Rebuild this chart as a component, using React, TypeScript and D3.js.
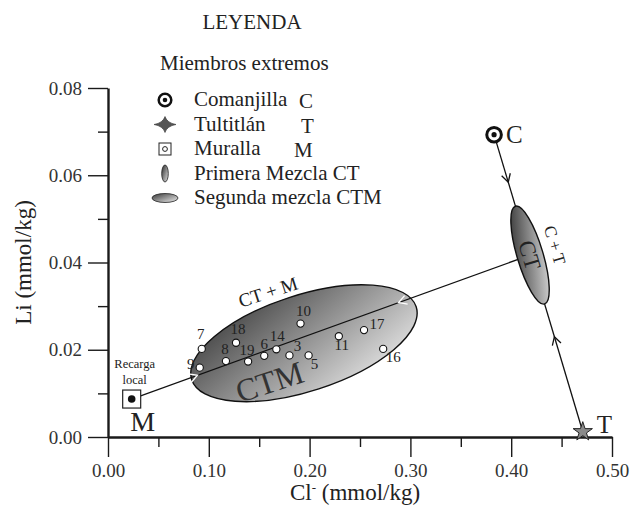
import React, { useEffect, useRef } from 'react';
import * as d3 from 'd3';

// end members (Cl in mmol/kg, Li in mmol/kg)
const endIds = ['C', 'T', 'M'];
const endNames = ['Comanjilla', 'Tultitlán', 'Muralla'];
const endCl = [0.383, 0.471, 0.0235];
const endLi = [0.0693, 0.0012, 0.0087];

// samples
const sampleIds = ['7', '9', '18', '8', '19', '6', '14', '3', '5', '10', '11', '17', '16'];
const sampleCl = [0.093, 0.091, 0.127, 0.117, 0.139, 0.155, 0.167, 0.18, 0.199, 0.191, 0.229, 0.254, 0.273];
const sampleLi = [0.0202, 0.0159, 0.0216, 0.0174, 0.0173, 0.0186, 0.0201, 0.0187, 0.0187, 0.026, 0.0231, 0.0245, 0.0202];

// mixture zones (centres)
const mixCT = { cl: 0.4187, li: 0.0417 };
const mixCTM = { cl: 0.1944, li: 0.0215 };

const xTicks = [0, 0.1, 0.2, 0.3, 0.4, 0.5];
const xMinor = [0.05, 0.15, 0.25, 0.35, 0.45];
const yTicks = [0, 0.02, 0.04, 0.06, 0.08];
const yMinor = [0.01, 0.03, 0.05, 0.07];

const legendRows = [...endNames, 'Primera Mezcla CT', 'Segunda mezcla CTM'];
const legendCodes = ['C', 'T', 'M', '', ''];

// label offsets in px, relative to the sample point
const labelOffset: Record<string, [number, number]> = {
  '7': [-1, -10], '9': [-9, 1], '18': [2, -9], '8': [-1, -7], '19': [-1, -7],
  '6': [0, -7], '14': [1, -8], '3': [8, -4], '5': [6, 14], '10': [3, -8],
  '11': [3, 14], '17': [13, -1], '16': [10, 13],
};

const W = 632;
const H = 505;
const FONT = '"Liberation Serif", "Times New Roman", serif';

const App = () => {
  const xAxisRef = useRef<SVGGElement>(null);
  const yAxisRef = useRef<SVGGElement>(null);

  const x = d3.scaleLinear().domain([0, 0.5]).range([108, 612]);
  const y = d3.scaleLinear().domain([0, 0.08]).range([437, 88]);

  useEffect(() => {
    const fmt = d3.format('.2f');
    const gx = d3.select(xAxisRef.current);
    gx.selectAll('*').remove();
    gx.append('g').call(d3.axisBottom(x).tickValues(xTicks).tickSize(20).tickSizeOuter(0).tickPadding(7).tickFormat(d => fmt(d as number)));
    gx.append('g').call(d3.axisBottom(x).tickValues(xMinor).tickSize(10).tickFormat(() => '')).select('.domain').remove();

    const gy = d3.select(yAxisRef.current);
    gy.selectAll('*').remove();
    gy.append('g').call(d3.axisLeft(y).tickValues(yTicks).tickSize(20).tickSizeOuter(0).tickPadding(6).tickFormat(d => fmt(d as number)));
    gy.append('g').call(d3.axisLeft(y).tickValues(yMinor).tickSize(10).tickFormat(() => '')).select('.domain').remove();

    [gx, gy].forEach(g => {
      g.selectAll('.domain').attr('stroke', '#1a1a1a').attr('stroke-width', 2.4);
      g.selectAll('.tick line').attr('stroke', '#1a1a1a').attr('stroke-width', 1.4);
      g.selectAll('.tick text').attr('font-family', FONT).attr('font-size', 19).attr('fill', '#333');
    });
  }, []);

  const ep = endIds.map((id, i) => ({ id, px: x(endCl[i]), py: y(endLi[i]) }));
  const [C, T, M] = ep;
  const ct = { px: x(mixCT.cl), py: y(mixCT.li) };
  const ctm = { px: x(mixCTM.cl), py: y(mixCTM.li) };

  const angCT = (Math.atan2(T.py - C.py, T.px - C.px) * 180) / Math.PI;
  const angM = (Math.atan2(ct.py - M.py, ct.px - M.px) * 180) / Math.PI;
  const along = (a: { px: number; py: number }, b: { px: number; py: number }, t: number) => [
    a.px + (b.px - a.px) * t,
    a.py + (b.py - a.py) * t,
  ];

  const arrows = [
    { p: along(C, T, 0.16), a: angCT, c: '#111' },
    { p: along(C, T, 0.68), a: angCT + 180, c: '#111' },
    { p: along(M, ct, 0.165), a: angM, c: '#fff' },
    { p: along(M, ct, 0.67), a: angM + 180, c: '#fff' },
  ];

  const star = d3.symbol().type(d3.symbolStar).size(115)() as string;
  const sparkle = 'M-11,0 Q-2,-1.6 0,-8 Q2,-1.6 11,0 Q2,1.6 0,8 Q-2,1.6 -11,0 Z';

  const legendX = 165;
  const textX = 194;
  const rowY = (i: number) => 106 + i * 24.5;
  const codeX = [299, 301, 294];

  return (
    <svg width={W} height={H} style={{ position: 'absolute', left: 0, top: 0, background: '#fff' }} fontFamily={FONT}>
      <defs>
        <linearGradient id="gCTM" x1="0.1" y1="0.1" x2="0.9" y2="0.9">
          <stop offset="0" stopColor="#4a4a4a" />
          <stop offset="1" stopColor="#dedede" />
        </linearGradient>
        <linearGradient id="gCT" x1="0" y1="0.05" x2="1" y2="0.95">
          <stop offset="0" stopColor="#2e2e2e" />
          <stop offset="1" stopColor="#e0e0e0" />
        </linearGradient>
      </defs>

      {/* legend */}
      <text x={252} y={29} fontSize={21} textAnchor="middle" fill="#222">LEYENDA</text>
      <text x={160} y={70} fontSize={21} fill="#222">Miembros extremos</text>
      {legendRows.map((name, i) => (
        <g key={name}>
          <text x={textX} y={rowY(i)} fontSize={21} fill="#222">{name}</text>
          {legendCodes[i] && (
            <text x={codeX[i]} y={rowY(i) + 2} fontSize={21} fill="#222">{legendCodes[i]}</text>
          )}
        </g>
      ))}
      <g transform={`translate(${legendX},${rowY(0) - 6})`}>
        <circle r={6.3} fill="#fff" stroke="#111" strokeWidth={2.5} />
        <circle r={2.3} fill="#111" />
      </g>
      <path d={sparkle} transform={`translate(${legendX},${rowY(1) - 6})`} fill="#555" stroke="#333" strokeWidth={0.6} />
      <g transform={`translate(${legendX},${rowY(2) - 6})`}>
        <rect x={-6} y={-6} width={12} height={12} fill="#fff" stroke="#222" strokeWidth={1} />
        <circle r={2.4} fill="#fff" stroke="#222" strokeWidth={1} />
      </g>
      <ellipse cx={legendX} cy={rowY(3) - 6} rx={3.3} ry={8.5} fill="url(#gCT)" stroke="#222" strokeWidth={0.8} />
      <ellipse cx={legendX} cy={rowY(4) - 6} rx={13} ry={4.5} fill="url(#gCTM)" stroke="#222" strokeWidth={0.8} />

      {/* axes */}
      <g ref={xAxisRef} transform={`translate(0,${y(0)})`} />
      <g ref={yAxisRef} transform={`translate(${x(0)},0)`} />
      <text x={355} y={500} fontSize={23} textAnchor="middle" fill="#222">
        Cl<tspan dy={-8} fontSize={13}>-</tspan><tspan dy={8}> (mmol/kg)</tspan>
      </text>
      <text transform={`translate(31,${(y(0) + y(0.08)) / 2}) rotate(-90)`} fontSize={23} textAnchor="middle" fill="#222">
        Li (mmol/kg)
      </text>

      {/* CTM mixing zone */}
      <ellipse
        cx={ctm.px}
        cy={ctm.py}
        rx={118}
        ry={48}
        transform={`rotate(-18,${ctm.px},${ctm.py})`}
        fill="url(#gCTM)"
        stroke="#111"
        strokeWidth={1.4}
      />

      {/* mixing lines */}
      <line x1={C.px} y1={C.py} x2={T.px} y2={T.py} stroke="#111" strokeWidth={1.3} />
      <line x1={M.px} y1={M.py} x2={ct.px} y2={ct.py} stroke="#111" strokeWidth={1.3} />

      {/* CT mixing zone */}
      <ellipse
        cx={ct.px}
        cy={ct.py}
        rx={13}
        ry={51}
        transform={`rotate(${angCT - 90},${ct.px},${ct.py})`}
        fill="url(#gCT)"
        stroke="#111"
        strokeWidth={1.4}
      />

      {arrows.map((a, i) => (
        <path
          key={i}
          d="M-8,-4.5 L0,0 L-8,4.5"
          transform={`translate(${a.p[0]},${a.p[1]}) rotate(${a.a})`}
          fill="none"
          stroke={a.c}
          strokeWidth={1.3}
        />
      ))}

      {/* zone labels */}
      <text transform={`translate(${ctm.px - 34},${ctm.py - 45}) rotate(-18)`} fontSize={19} textAnchor="middle" fill="#222">CT + M</text>
      <text transform={`translate(${ctm.px - 31},${ctm.py + 49}) rotate(-18)`} fontSize={32} textAnchor="middle" fill="#333">CTM</text>
      <text transform={`translate(${ct.px},${ct.py}) rotate(${angCT})`} fontSize={23} textAnchor="middle" dy="0.35em" fill="#222">CT</text>
      <text transform={`translate(${ct.px + 25},${ct.py - 10}) rotate(${angCT})`} fontSize={17} textAnchor="middle" dy="0.35em" fill="#222">C + T</text>

      {/* samples */}
      {sampleIds.map((id, i) => {
        const px = x(sampleCl[i]);
        const py = y(sampleLi[i]);
        const [dx, dy] = labelOffset[id];
        return (
          <g key={id}>
            <circle cx={px} cy={py} r={3.6} fill="#fff" stroke="#111" strokeWidth={1.1} />
            <text x={px + dx} y={py + dy} fontSize={15} textAnchor="middle" fill="#222">{id}</text>
          </g>
        );
      })}

      {/* end members */}
      <g transform={`translate(${C.px},${C.py})`}>
        <circle r={7.3} fill="#fff" stroke="#111" strokeWidth={3} />
        <circle r={2.6} fill="#111" />
      </g>
      <text x={C.px + 12} y={C.py + 8} fontSize={25} fill="#222">C</text>

      <path d={star} transform={`translate(${T.px},${T.py})`} fill="#8a8a8a" stroke="#222" strokeWidth={1} />
      <text x={T.px + 14} y={T.py + 1} fontSize={25} fill="#222">T</text>

      <g transform={`translate(${M.px},${M.py})`}>
        <rect x={-9} y={-9} width={18} height={18} fill="#fff" stroke="#222" strokeWidth={1.2} />
        <circle r={3.8} fill="#111" />
      </g>
      <text x={M.px + 11} y={M.py + 32} fontSize={28} textAnchor="middle" fill="#222">M</text>
      <text x={M.px + 3} y={M.py - 31} fontSize={12.5} textAnchor="middle" fill="#222">Recarga</text>
      <text x={M.px + 3} y={M.py - 15} fontSize={12.5} textAnchor="middle" fill="#222">local</text>
    </svg>
  );
};

export default App;
